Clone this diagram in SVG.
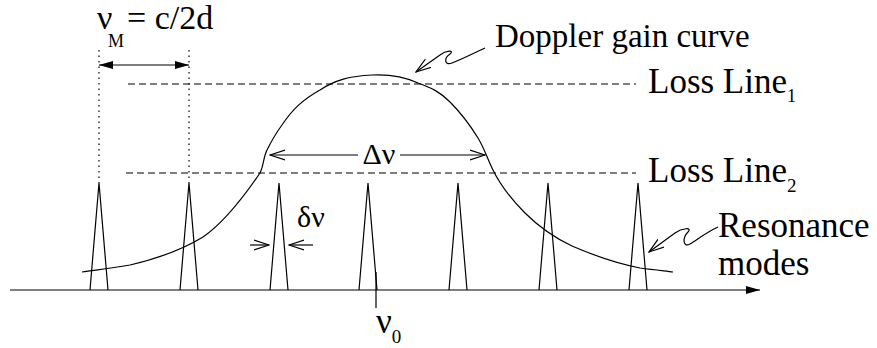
<svg xmlns="http://www.w3.org/2000/svg" width="877" height="348" viewBox="0 0 877 348">
<style>
.ln{fill:none;stroke:#000;stroke-width:1.2}
.dash{fill:none;stroke:#000;stroke-width:1.2;stroke-dasharray:7 4}
.dot{fill:none;stroke:#000;stroke-width:1.2;stroke-dasharray:1.5 4}
.t{font-family:"Liberation Serif","Times New Roman",serif;fill:#000}
</style>
<defs>
<marker id="fill" viewBox="0 0 14 10" refX="14" refY="5" markerWidth="14" markerHeight="10" markerUnits="userSpaceOnUse" orient="auto-start-reverse"><path d="M0,1 L14,5 L0,9 z" fill="#000"/></marker>
<marker id="open" viewBox="0 0 16 12" refX="15" refY="6" markerWidth="16" markerHeight="12" markerUnits="userSpaceOnUse" orient="auto-start-reverse"><path d="M0,1 L15,6 L0,11" fill="none" stroke="#000" stroke-width="1.2"/></marker>
</defs>
<rect width="877" height="348" fill="#fff"/>
<g id="connectors">
<line class="ln" x1="10" y1="290" x2="760" y2="290" marker-end="url(#fill)"/>
<line class="dot" x1="99" y1="50" x2="99" y2="183"/>
<line class="dot" x1="189" y1="50" x2="189" y2="183"/>
<line class="ln" x1="99" y1="65" x2="189" y2="65" marker-start="url(#fill)" marker-end="url(#fill)"/>
<line class="dash" x1="128" y1="84" x2="636" y2="84"/>
<line class="dash" x1="126" y1="173" x2="636" y2="173"/>
<line class="ln" x1="270" y1="155" x2="358" y2="155" marker-start="url(#open)"/>
<line class="ln" x1="400" y1="155" x2="485" y2="155" marker-end="url(#open)"/>
<line class="ln" x1="250" y1="245" x2="269" y2="245" marker-end="url(#open)"/>
<line class="ln" x1="313" y1="245" x2="289" y2="245" marker-end="url(#open)"/>
<line class="ln" x1="376" y1="272" x2="376" y2="308"/>
<path class="ln" d="M485,48 C470,55 460,60 452,63 C444,66 444,58 450,54 C455,50 446,50 440,55 L416,72" marker-end="url(#open)"/>
<path class="ln" d="M718,227 C705,233 697,240 690,244 C683,248 682,238 688,232 C693,227 682,228 675,233 L649,252" marker-end="url(#open)"/>
</g>
<g id="gain-curve">
<path class="ln" d="M82,272 C95,270 107,269 130,265 C160,258 185,248 203,237 C225,222 245,195 260,173 C264,165 263,158 267,150 C272,140 276,133 282,125 C292,110 302,100 320,90 C335,80 350,76 372,75 C392,74 405,77 418,83 C432,88 440,92 450,102 C462,114 470,125 478,138 C484,148 486,155 492,168 C500,185 510,198 525,213 C540,228 553,237 572,246 C595,256 615,263 640,268 C655,270 665,271 673,272"/>
</g>
<g id="modes">
<path class="ln" d="M90,290 L99,183 L108,290"/>
<path class="ln" d="M180,290 L189,183 L198,290"/>
<path class="ln" d="M270,290 L279,183 L288,290"/>
<path class="ln" d="M359,290 L368,183 L377,290"/>
<path class="ln" d="M449,290 L458,183 L467,290"/>
<path class="ln" d="M539,290 L548,183 L557,290"/>
<path class="ln" d="M629,290 L638,183 L647,290"/>
</g>
<g id="label-spacing"><text class="t" x="97" y="29" font-size="34">ν<tspan font-size="18" x="108" y="47">M</tspan><tspan x="127" y="29">= c/2d</tspan></text></g>
<g id="label-doppler"><text class="t" x="495" y="47" font-size="33">Doppler gain curve</text></g>
<g id="label-loss1"><text class="t" x="648" y="93" font-size="35">Loss Line<tspan font-size="18" y="102">1</tspan></text></g>
<g id="label-loss2"><text class="t" x="648" y="182" font-size="35">Loss Line<tspan font-size="19" y="192">2</tspan></text></g>
<g id="label-delta"><text class="t" x="379" y="164" font-size="30" text-anchor="middle">Δν</text></g>
<g id="label-small-delta"><text class="t" x="297" y="227" font-size="30">δν</text></g>
<g id="label-resonance"><text class="t" x="718" y="237" font-size="35">Resonance</text><text class="t" x="718" y="275" font-size="35">modes</text></g>
<g id="label-nu0"><text class="t" x="376" y="333" font-size="35">ν<tspan font-size="19" y="343">0</tspan></text></g>
</svg>
